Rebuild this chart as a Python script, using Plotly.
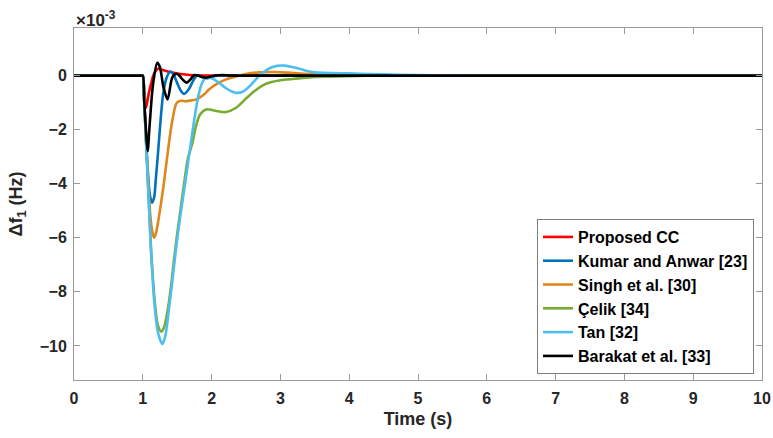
import plotly.graph_objects as go

# ---------------- data (values in units of 1e-3 Hz) ----------------
names = ["Proposed CC", "Kumar and Anwar [23]", "Singh et al. [30]",
         "Çelik [34]", "Tan [32]", "Barakat et al. [33]"]
colors = ["#FF0000", "#0072BD", "#E0861A", "#77AC30", "#4DBEEE", "#000000"]

t_cc = [0, 0.5, 0.98, 1.0, 1.02, 1.045, 1.08, 1.12, 1.16, 1.22, 1.3, 1.4, 1.5,
        1.65, 1.8, 2.0, 3.0, 10]
v_cc = [0, 0, 0, 0, -0.55, -1.2, -0.75, -0.3, 0.05, 0.25, 0.2, 0.13, 0.08,
        0.03, 0.01, 0, 0, 0]

t_kumar = [0, 0.5, 0.98, 1.0, 1.02, 1.05, 1.08, 1.105, 1.135, 1.165, 1.19,
           1.22, 1.26, 1.3, 1.35, 1.4, 1.45, 1.5, 1.55, 1.6, 1.67, 1.73,
           1.79, 1.86, 1.93, 2.0, 2.1, 2.3, 3.0, 10]
v_kumar = [0, 0, 0, 0, -0.9, -2.5, -3.8, -4.45, -4.7, -4.5, -3.8,
           -2.9, -1.6, -0.6, -0.05, 0.15, 0.02, -0.28, -0.55, -0.68, -0.5,
           -0.2, 0.0, -0.05, -0.1, -0.05, 0.0, 0, 0, 0]

t_singh = [0, 0.5, 0.98, 1.0, 1.02, 1.05, 1.08, 1.11, 1.14, 1.165, 1.19,
           1.22, 1.26, 1.3, 1.35, 1.42, 1.49, 1.55, 1.62, 1.7, 1.78, 1.88,
           1.97, 2.07, 2.2, 2.35, 2.5, 2.7, 2.9, 3.1, 3.4, 3.8, 4.3, 5.0, 10]
v_singh = [0, 0, 0, 0, -0.9, -2.5, -4.0, -5.2, -5.8, -6.0, -5.85,
           -5.45, -4.8, -4.1, -3.1, -1.8, -1.02, -0.93, -0.95, -0.92, -0.88,
           -0.72, -0.5, -0.32, -0.15, -0.03, 0.06, 0.12, 0.13, 0.11, 0.06,
           0.02, 0, 0, 0]

t_celik = [0, 0.5, 0.98, 1.0, 1.02, 1.05, 1.09, 1.12, 1.175, 1.22, 1.27,
           1.31, 1.36, 1.41, 1.455, 1.5, 1.55, 1.6, 1.655, 1.72, 1.77, 1.83,
           1.92, 2.05, 2.21, 2.35, 2.5, 2.62, 2.75, 2.87, 3.0, 3.2, 3.45,
           3.7, 4.0, 4.5, 5.0, 10]
v_celik = [0, 0, 0, 0, -0.9, -2.6, -4.8, -6.4, -8.4, -9.25, -9.47,
           -9.3, -8.7, -7.8, -6.78, -5.85, -4.93, -4.0, -3.07, -2.5, -1.9, -1.45,
           -1.25, -1.3, -1.35, -1.2, -0.85, -0.58, -0.35, -0.24, -0.17, -0.12,
           -0.06, -0.04, -0.02, 0, 0, 0]

t_tan = [0, 0.5, 0.98, 1.0, 1.02, 1.05, 1.09, 1.12, 1.175, 1.22, 1.285,
         1.33, 1.38, 1.42, 1.466, 1.51, 1.56, 1.62, 1.67, 1.71, 1.75, 1.8,
         1.85, 1.9, 1.96, 2.02, 2.1, 2.2, 2.3, 2.36, 2.45, 2.55, 2.65, 2.75,
         2.85, 2.95, 3.05, 3.15, 3.28, 3.4, 3.55, 3.75, 4.0, 4.3, 4.7, 5.2,
         6.0, 10]
v_tan = [0, 0, 0, 0, -0.9, -2.6, -4.8, -6.5, -8.6, -9.5, -9.93,
         -9.6, -8.63, -7.8, -6.78, -5.85, -4.93, -3.9, -3.0, -2.3, -1.6, -0.85,
         -0.35, -0.12, -0.08, -0.12, -0.25, -0.45, -0.6, -0.64, -0.6, -0.4,
         -0.12, 0.12, 0.28, 0.36, 0.37, 0.33, 0.25, 0.16, 0.11, 0.09, 0.08,
         0.06, 0.03, 0.01, 0, 0]

t_barakat = [0, 0.5, 0.98, 1.0, 1.02, 1.045, 1.07, 1.1, 1.15, 1.21, 1.25,
             1.3, 1.36, 1.43, 1.49, 1.53, 1.58, 1.64, 1.69, 1.75, 1.8, 1.86,
             1.92, 1.98, 2.05, 2.15, 2.3, 3.0, 10]
v_barakat = [0, 0, 0, 0, -0.9, -2.0, -2.8, -1.8, -0.3, 0.47, 0.3,
             -0.43, -0.88, -0.06, 0.07, 0.0, -0.15, -0.26, -0.15, 0.02, 0.0, -0.05,
             -0.08, -0.04, 0.0, 0.02, 0, 0, 0]

series_t = [t_cc, t_kumar, t_singh, t_celik, t_tan, t_barakat]
series_v = [v_cc, v_kumar, v_singh, v_celik, v_tan, v_barakat]

x_ticks = list(range(0, 11))
y_ticks = [-10, -8, -6, -4, -2, 0]

FONT = "Liberation Sans"
AX = "#9a9a9a"
TXT = "#262626"

fig = go.Figure()
for name, col, tt, vv in zip(names, colors, series_t, series_v):
    fig.add_trace(go.Scatter(x=tt, y=vv, name=name, mode="lines",
                             line=dict(color=col, width=2.6, shape="spline",
                                       smoothing=0.8)))

fig.update_layout(
    width=773, height=438,
    margin=dict(l=74, r=11, t=28, b=58),
    paper_bgcolor="white", plot_bgcolor="white",
    font=dict(family=FONT, size=16, color=TXT),
    showlegend=True,
    legend=dict(x=0.673, y=0.017, xanchor="left", yanchor="bottom",
                bgcolor="white", bordercolor="#7f7f7f", borderwidth=1,
                font=dict(family=FONT, size=16, color="black", weight="bold"),
                itemwidth=30, tracegroupgap=0),
)
fig.update_xaxes(range=[0, 10], tickvals=x_ticks, ticks="inside", ticklen=6,
                 tickcolor=AX, showline=True, linecolor=AX, linewidth=1,
                 mirror="ticks", showgrid=False, zeroline=False, automargin=False,
                 ticklabelstandoff=4,
                 tickfont=dict(family=FONT, size=16, color=TXT, weight="bold"),
                 title=dict(text="Time (s)", standoff=6,
                            font=dict(family=FONT, size=18, color=TXT,
                                      weight="bold")))
fig.update_yaxes(range=[-11.26, 1.76], tickvals=y_ticks, ticks="inside", ticklen=6,
                 tickcolor=AX, showline=True, linecolor=AX, linewidth=1,
                 mirror="ticks", showgrid=False, zeroline=False, automargin=False,
                 ticklabelstandoff=3,
                 tickfont=dict(family=FONT, size=16, color=TXT, weight="bold"),
                 title=dict(text="Δf<sub>1</sub> (Hz)", standoff=12,
                            font=dict(family=FONT, size=18, color=TXT,
                                      weight="bold")))
fig.add_annotation(x=0, y=1, xref="paper", yref="paper", xanchor="left",
                   yanchor="bottom", yshift=-4, showarrow=False,
                   text="×10<sup>-3</sup>",
                   font=dict(family=FONT, size=17, color=TXT, weight="bold"))

fig.write_html("out.html",
               config={"displayModeBar": False},
               post_script="document.body.style.margin='0';"
                           "document.body.style.overflow='hidden';")
